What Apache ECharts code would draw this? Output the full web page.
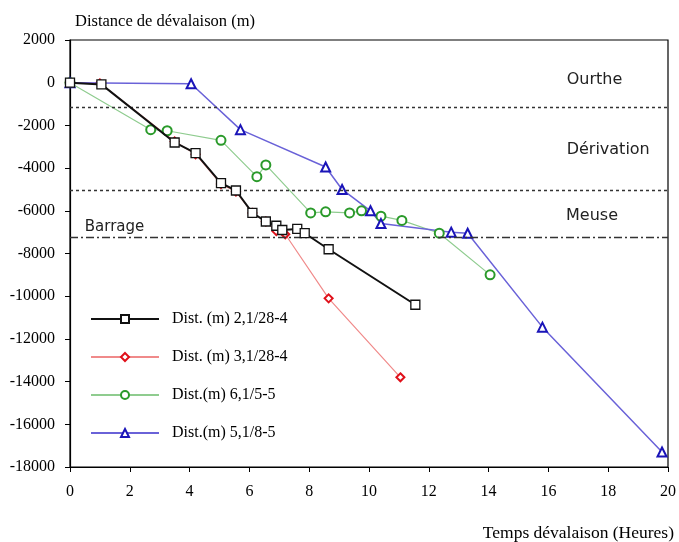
<!DOCTYPE html>
<html>
<head>
<meta charset="utf-8">
<script src="https://cdn.jsdelivr.net/npm/echarts@6/dist/echarts.min.js"></script>
<style>
  html, body { margin: 0; padding: 0; background: #fff; }
  #chart { width: 679px; height: 542px; }
</style>
</head>
<body>
<div id="chart"></div>
<script>
// temps (heures) / distance (m) for each release
var blackTime = [0, 1.05, 3.5, 4.2, 5.05, 5.55, 6.1, 6.55, 6.9, 7.1, 7.6, 7.85, 8.65, 11.55]
var blackDist = [0, -80, -2800, -3300, -4700, -5050, -6100, -6500, -6700, -6900, -6850, -7050, -7800, -10400]

var redTime = [0, 1, 3.5, 4.2, 5.05, 5.55, 6.1, 6.55, 6.9, 7.2, 8.65, 11.05]
var redDist = [0, -30, -2750, -3350, -4750, -5100, -6100, -6500, -6950, -7100, -10100, -13800]

var greenTime = [0, 2.7, 3.25, 5.05, 6.25, 6.55, 8.05, 8.55, 9.35, 9.75, 10.4, 11.1, 12.35, 14.05]
var greenDist = [0, -2200, -2250, -2700, -4400, -3850, -6100, -6050, -6100, -6000, -6250, -6450, -7050, -9000]

var blueTime = [0, 4.05, 5.7, 8.55, 9.1, 10.05, 10.4, 12.75, 13.3, 15.8, 19.8]
var blueDist = [0, -50, -2200, -3950, -5000, -6000, -6600, -7000, -7050, -11450, -17300]

var seriesNames = ['Dist. (m) 2,1/28-4', 'Dist. (m) 3,1/28-4', 'Dist.(m) 6,1/5-5', 'Dist.(m) 5,1/8-5']

// limites des zones
var limitOurthe = -1150
var limitDerivation = -5050
var limitBarrage = -7250

var zoneLabels = ['Ourthe', 'Dérivation', 'Meuse', 'Barrage']
var zoneLabelPos = [[17.54, 120], [18.0, -3150], [17.46, -6240], [1.49, -6760]]

function pairs (xs, ys) {
  return xs.map(function (x, i) { return [x, ys[i]] })
}

var serif = 'Liberation Serif'
var sans = 'DejaVu Sans'

var myChart = echarts.init(document.getElementById('chart'))
var option = {
  backgroundColor: '#fff',
  animation: false,
  grid: {
    left: 70,
    right: 11,
    top: 40,
    bottom: 75,
    show: true,
    borderColor: '#000',
    borderWidth: 1.2
  },
  legend: {
    orient: 'vertical',
    left: 85,
    top: 306,
    itemWidth: 68,
    itemHeight: 10,
    itemGap: 22,
    textStyle: { fontFamily: serif, fontSize: 16, color: '#000', padding: [0, 0, 0, 8] },
    data: seriesNames
  },
  xAxis: {
    type: 'value',
    min: 0,
    max: 20,
    interval: 2,
    name: 'Temps dévalaison (Heures)',
    nameLocation: 'end',
    nameGap: 6,
    nameTextStyle: {
      fontFamily: serif,
      fontSize: 17.5,
      color: '#000',
      align: 'right',
      verticalAlign: 'top',
      padding: [57, 0, 0, 0]
    },
    axisLine: { onZero: false, lineStyle: { color: '#000', width: 1.2 } },
    axisTick: { inside: false, length: 5, lineStyle: { color: '#000' } },
    axisLabel: { fontFamily: serif, fontSize: 16, color: '#000', margin: 17 },
    splitLine: { show: false }
  },
  yAxis: {
    type: 'value',
    min: -18000,
    max: 2000,
    interval: 2000,
    name: 'Distance de dévalaison (m)',
    nameLocation: 'end',
    nameGap: 10,
    nameTextStyle: {
      fontFamily: serif,
      fontSize: 16.5,
      color: '#000',
      align: 'left',
      padding: [0, 0, 0, 5]
    },
    axisLine: { onZero: false, lineStyle: { color: '#000', width: 1.2 } },
    axisTick: { inside: false, length: 5, lineStyle: { color: '#000' } },
    axisLabel: {
      fontFamily: serif,
      fontSize: 16,
      color: '#000',
      margin: 15,
      formatter: function (v) { return String(v) }
    },
    splitLine: { show: false }
  },
  series: [
    {
      name: seriesNames[0],
      type: 'line',
      data: pairs(blackTime, blackDist),
      z: 5,
      symbol: 'rect',
      symbolSize: 9,
      lineStyle: { color: '#111', width: 2 },
      itemStyle: { color: '#fff', borderColor: '#111', borderWidth: 1.3 },
      markLine: {
        silent: true,
        symbol: 'none',
        label: { show: false },
        data: [
          { yAxis: limitOurthe, lineStyle: { type: [3, 3], color: '#333', width: 1.3 } },
          { yAxis: limitDerivation, lineStyle: { type: [3, 3], color: '#333', width: 1.3 } },
          { yAxis: limitBarrage, lineStyle: { type: [8, 3, 2, 3], color: '#333', width: 1.3 } }
        ]
      },
      markPoint: {
        silent: true,
        symbol: 'circle',
        symbolSize: 0,
        label: { show: true, fontFamily: sans, fontSize: 16, color: '#222', formatter: '{b}' },
        data: zoneLabels.map(function (n, i) {
          return { name: n, coord: zoneLabelPos[i], label: { fontSize: i === 3 ? 15 : 16 } }
        })
      }
    },
    {
      name: seriesNames[1],
      type: 'line',
      data: pairs(redTime, redDist),
      z: 3,
      symbol: 'emptyDiamond',
      symbolSize: 8,
      lineStyle: { color: '#f08a8a', width: 1.2 },
      itemStyle: { color: '#e0101a', borderColor: '#e0101a', borderWidth: 2 }
    },
    {
      name: seriesNames[2],
      type: 'line',
      data: pairs(greenTime, greenDist),
      z: 4,
      symbol: 'emptyCircle',
      symbolSize: 9,
      lineStyle: { color: '#8fcc8f', width: 1.2 },
      itemStyle: { color: '#2a9a2a', borderColor: '#2a9a2a', borderWidth: 1.5 }
    },
    {
      name: seriesNames[3],
      type: 'line',
      data: pairs(blueTime, blueDist),
      z: 4,
      symbol: 'emptyTriangle',
      symbolSize: 9,
      lineStyle: { color: '#6a62d8', width: 1.5 },
      itemStyle: { color: '#1a14b8', borderColor: '#1a14b8', borderWidth: 1.5 }
    }
  ]
}
myChart.setOption(option)
</script>
</body>
</html>
